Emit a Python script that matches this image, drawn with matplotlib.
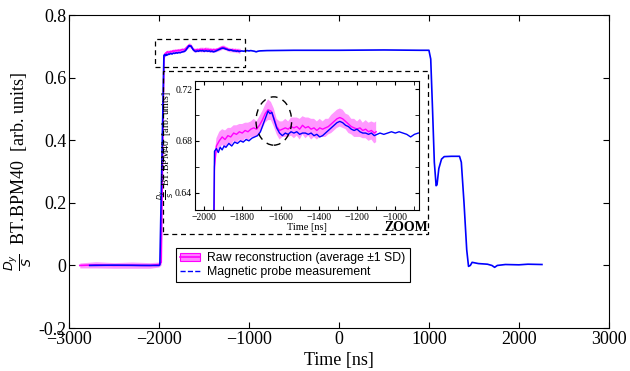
import matplotlib
matplotlib.use('Agg')
import matplotlib.pyplot as plt
from matplotlib.patches import Rectangle, Ellipse, Patch
from matplotlib.lines import Line2D

plt.rcParams['font.family'] = 'Liberation Serif'
plt.rcParams['mathtext.fontset'] = 'dejavusans'

t_probe = [-2770, -2500, -2200, -2000, -1990, -1945, -1935, -1925, -1915, -1905,
           -1895, -1885, -1870, -1855, -1840, -1825, -1810, -1795, -1780, -1765,
           -1750, -1735, -1720, -1705, -1690, -1675, -1665, -1655, -1645, -1635,
           -1620, -1605, -1590, -1575, -1560, -1545, -1530, -1515, -1500, -1485,
           -1470, -1455, -1440, -1425, -1410, -1395, -1380, -1365, -1350, -1335,
           -1320, -1305, -1290, -1275, -1260, -1245, -1230, -1215, -1200, -1185,
           -1170, -1155, -1140, -1125, -1110, -1095, -1080, -1060, -1040, -1020,
           -1000, -980, -960, -940, -920, -900, -880, -800, -500, 0,
           500, 900, 1000, 1020, 1040, 1060, 1080, 1090, 1110, 1140,
           1170, 1250, 1340, 1360, 1390, 1420, 1440, 1460, 1480, 1550,
           1650, 1700, 1730, 1760, 1850, 2000, 2100, 2256]
v_probe = [0.000, 0.001, 0.000, 0.000, 0.002, 0.672, 0.674, 0.671, 0.675, 0.673,
           0.676, 0.675, 0.678, 0.676, 0.679, 0.678, 0.680, 0.679, 0.681, 0.680,
           0.682, 0.683, 0.684, 0.687, 0.693, 0.699, 0.703, 0.701, 0.702, 0.697,
           0.690, 0.686, 0.684, 0.686, 0.685, 0.687, 0.686, 0.687, 0.685, 0.686,
           0.686, 0.685, 0.686, 0.684, 0.685, 0.683, 0.684, 0.686, 0.688, 0.690,
           0.692, 0.694, 0.695, 0.694, 0.692, 0.691, 0.689, 0.688, 0.689, 0.687,
           0.686, 0.686, 0.685, 0.686, 0.684, 0.685, 0.686, 0.685, 0.686, 0.687,
           0.686, 0.687, 0.686, 0.685, 0.683, 0.685, 0.686, 0.687, 0.688, 0.688,
           0.689, 0.688, 0.688, 0.660, 0.500, 0.330, 0.255, 0.258, 0.310, 0.340,
           0.348, 0.349, 0.349, 0.330, 0.200, 0.050, -0.003, 0.000, 0.010, 0.006,
           0.004, 0.000, -0.006, 0.000, 0.003, 0.002, 0.004, 0.003]

# raw reconstruction: average and standard deviation
t_rec = [-2880, -2700, -2500, -2300, -2100, -2000, -1975, -1945, -1935, -1920,
         -1905, -1890, -1875, -1860, -1845, -1830, -1815, -1800, -1785, -1770,
         -1755, -1740, -1725, -1710, -1695, -1680, -1665, -1650, -1635, -1620,
         -1605, -1590, -1575, -1560, -1545, -1530, -1515, -1500, -1485, -1470,
         -1455, -1440, -1425, -1410, -1395, -1380, -1365, -1350, -1335, -1320,
         -1305, -1290, -1275, -1260, -1245, -1230, -1215, -1200, -1185, -1170,
         -1155, -1140, -1125, -1110, -1100]
m_rec = [0.000, 0.002, 0.000, 0.001, 0.000, 0.003, 0.010, 0.660, 0.676, 0.680,
         0.683, 0.681, 0.684, 0.683, 0.686, 0.685, 0.687, 0.686, 0.688, 0.687,
         0.689, 0.690, 0.689, 0.692, 0.696, 0.701, 0.704, 0.703, 0.698, 0.691,
         0.688, 0.689, 0.690, 0.689, 0.691, 0.690, 0.691, 0.689, 0.692, 0.690,
         0.691, 0.689, 0.690, 0.688, 0.690, 0.689, 0.690, 0.691, 0.693, 0.695,
         0.697, 0.698, 0.697, 0.695, 0.693, 0.691, 0.690, 0.689, 0.690, 0.688,
         0.689, 0.687, 0.688, 0.686, 0.687]
s_rec = [0.008, 0.010, 0.009, 0.010, 0.009, 0.008, 0.008, 0.008, 0.006, 0.007,
         0.006, 0.007, 0.006, 0.007, 0.006, 0.007, 0.006, 0.007, 0.006, 0.007,
         0.006, 0.007, 0.006, 0.007, 0.007, 0.007, 0.008, 0.007, 0.007, 0.006,
         0.007, 0.006, 0.007, 0.006, 0.007, 0.008, 0.007, 0.008, 0.007, 0.008,
         0.007, 0.008, 0.007, 0.007, 0.007, 0.006, 0.007, 0.006, 0.007, 0.007,
         0.007, 0.007, 0.007, 0.006, 0.007, 0.006, 0.007, 0.006, 0.007, 0.006,
         0.007, 0.007, 0.007, 0.008, 0.008]

lo_rec = [m - s for m, s in zip(m_rec, s_rec)]
hi_rec = [m + s for m, s in zip(m_rec, s_rec)]

band_col = '#ff80ff'
mean_col = '#ff00ff'
probe_col = '#0000ff'


def draw(ax, lw):
    ax.fill_between(t_rec, lo_rec, hi_rec, color=band_col, lw=0, alpha=0.8)
    ax.plot(t_rec, m_rec, color=mean_col, lw=lw)
    ax.plot(t_probe, v_probe, color=probe_col, lw=lw)


fig = plt.figure(figsize=(6.3, 3.71), dpi=100)
ax = fig.add_axes([0.1095, 0.1159, 0.857, 0.843])
draw(ax, 1.2)
ax.set_xlim(-3000, 3000)
ax.set_ylim(-0.2, 0.8)
ax.set_xticks([-3000, -2000, -1000, 0, 1000, 2000, 3000])
ax.set_yticks([-0.2, 0, 0.2, 0.4, 0.6, 0.8])
ax.set_yticklabels(['-0.2', '0', '0.2', '0.4', '0.6', '0.8'])
ax.tick_params(labelsize=13, direction='in', length=4, top=True, right=True, pad=2)
ax.set_xlabel('Time [ns]', fontsize=13, labelpad=3)
ax.set_ylabel(r'$\frac{D_y}{S}$  BT.BPM40  [arb. units]', fontsize=13, labelpad=3)

# zoom boxes
ax.add_patch(Rectangle((-2045, 0.635), 1000, 0.088, fill=False, ls=(0, (4, 3)),
                       lw=0.9, ec='black', zorder=5))
ax.add_patch(Rectangle((-1952, 0.0996), 2944, 0.521, fill=False, ls=(0, (4, 3)),
                       lw=0.9, ec='black', zorder=5))
ax.text(990, 0.100, 'ZOOM', fontsize=10, fontweight='bold', ha='right', va='bottom')

leg_handles = [
    (Patch(facecolor=band_col, edgecolor=mean_col, lw=0.8),
     Line2D([], [], color=mean_col, lw=1.2)),
    Line2D([], [], color=probe_col, lw=1, ls='--'),
]
leg = ax.legend(leg_handles, ['Raw reconstruction (average \u00b11 SD)',
                              'Magnetic probe measurement'],
                loc='upper left', bbox_to_anchor=(0.198, 0.256), borderaxespad=0,
                prop={'family': 'Liberation Sans', 'size': 8.8},
                fancybox=False, edgecolor='black', framealpha=1,
                borderpad=0.35, labelspacing=0.15, handlelength=1.6,
                handletextpad=0.6)
leg.get_frame().set_linewidth(0.8)

# inset
axi = fig.add_axes([0.3095, 0.434, 0.355, 0.3477])
draw(axi, 1.0)
axi.set_xlim(-2047, -878)
axi.set_ylim(0.6266, 0.7262)
axi.set_xticks([-2000, -1800, -1600, -1400, -1200, -1000])
axi.set_yticks([0.64, 0.68, 0.72])
axi.set_yticks([0.66, 0.70], minor=True)
axi.set_xticks([-1900, -1700, -1500, -1300, -1100, -900], minor=True)
axi.tick_params(which='both', labelsize=7, direction='in', top=True, right=True, pad=2)
axi.tick_params(which='major', length=3)
axi.tick_params(which='minor', length=3)
axi.set_xlabel('Time [ns]', fontsize=7.5, labelpad=1)
axi.set_ylabel(r'$\frac{D_y}{S}$  BT.BPM40  [arb. units]', fontsize=7)
axi.yaxis.set_label_coords(-0.085, 0.5)
axi.add_patch(Ellipse((-1635, 0.6953), 186, 0.0373, fill=False, ls=(0, (5, 4)),
                      lw=1.0, ec='black', zorder=5))

plt.savefig('out.png', dpi=100)
